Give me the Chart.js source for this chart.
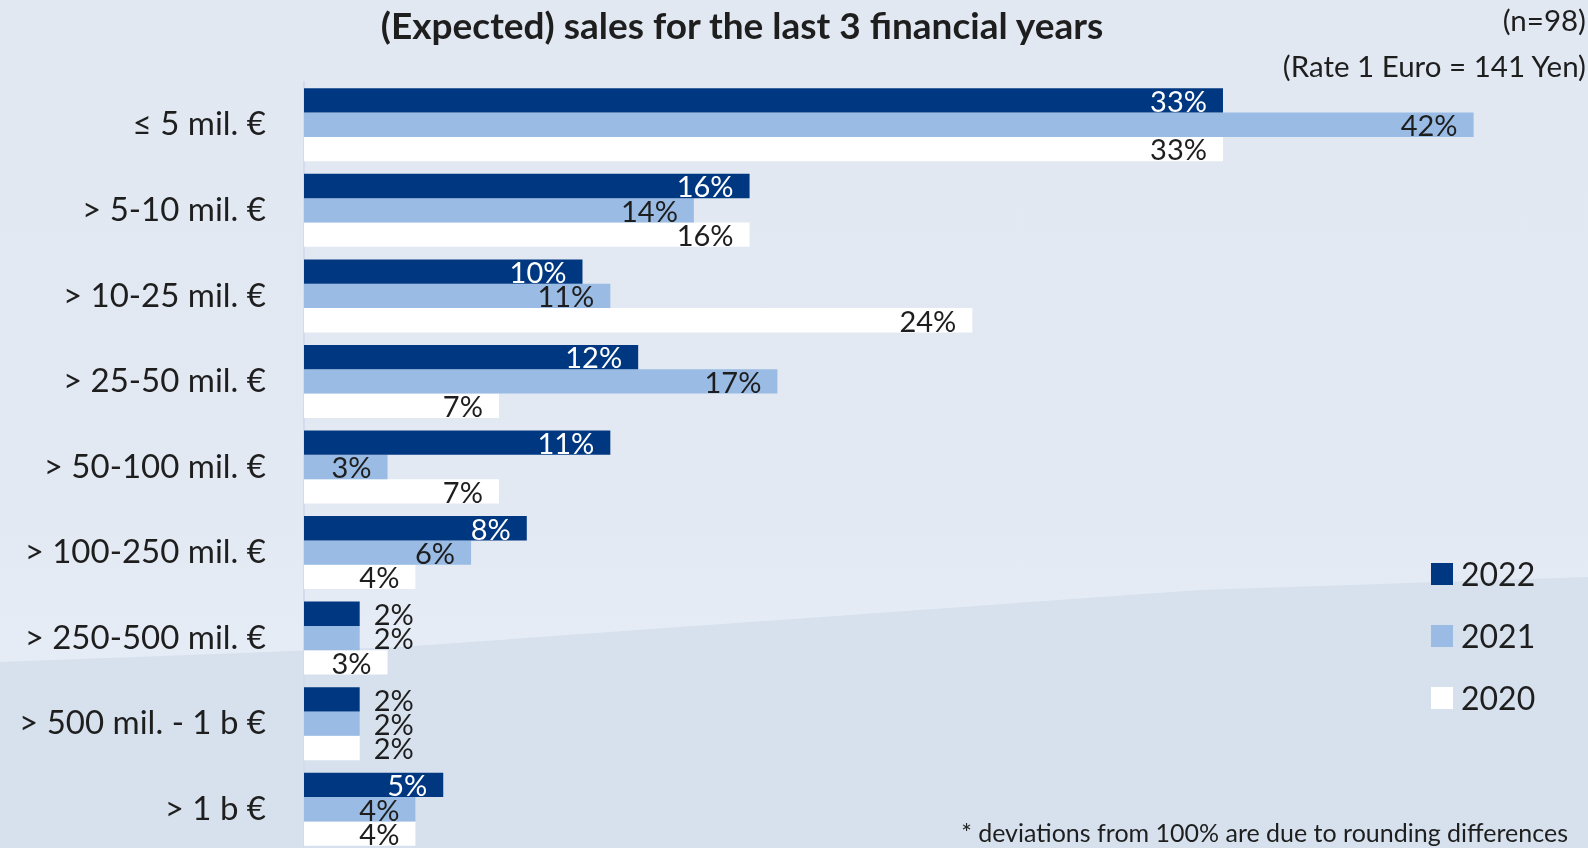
<!DOCTYPE html>
<html lang="en">
<head>
  <meta charset="UTF-8">
  <title>(Expected) sales for the last 3 financial years</title>
  <script src="https://cdn.jsdelivr.net/npm/chart.js"></script>
  <style>
    html, body { margin: 0; padding: 0; width: 1588px; height: 848px; overflow: hidden; }
    body { font-family: Lato, sans-serif; color: #1e1e1e; position: relative;
           background: linear-gradient(180deg, #e1e8f2 0%, #e3e9f3 60%, #e6ecf5 75%); }
    .lower { position: absolute; left: 0; top: 0; width: 1588px; height: 848px;
             background: #d6e1ed;
             clip-path: polygon(0 662px, 400px 647px, 1200px 590px, 1588px 577px, 1588px 848px, 0 848px); }
    .wrap { position: absolute; left: 0; top: 0; width: 1588px; height: 860px; }
    .txt { position: absolute; white-space: nowrap; line-height: 1; }
    #title { left: 742px; top: 24px; transform: translate(-50%, -50%); font-size: 37px; font-weight: bold; }
    #n { right: 2px; top: 20px; transform: translateY(-50%); font-size: 29.5px; }
    #rate { right: 2px; top: 66px; transform: translateY(-50%); font-size: 29.5px; }
    #note { right: 20px; top: 832px; transform: translateY(-50%); font-size: 25px; }
    .leg { position: absolute; left: 1431px; width: 300px; height: 40px; }
    .leg span.box { position: absolute; left: 0; top: 9px; width: 22px; height: 22px; }
    .leg span.lab { position: absolute; left: 30px; top: 20px; transform: translateY(-50%); font-size: 32px; line-height: 1; }
  </style>
</head>
<body>
  <div class="lower"></div>
  <div class="wrap"><canvas id="chart" width="1588" height="860"></canvas></div>

  <div class="txt" id="title">(Expected) sales for the last 3 financial years</div>
  <div class="txt" id="n">(n=98)</div>
  <div class="txt" id="rate">(Rate 1 Euro = 141 Yen)</div>
  <div class="txt" id="note">* deviations from 100% are due to rounding differences</div>
  <div id="legend"></div>

  <script>
    // categories and values (percent)
    const categories = ['≤ 5 mil. €', '> 5-10 mil. €', '> 10-25 mil. €', '> 25-50 mil. €', '> 50-100 mil. €',
                        '> 100-250 mil. €', '> 250-500 mil. €', '> 500 mil. - 1 b €', '> 1 b €'];
    const years = ['2022', '2021', '2020'];
    const sales2022 = [33, 16, 10, 12, 11, 8, 2, 2, 5];
    const sales2021 = [42, 14, 11, 17, 3, 6, 2, 2, 4];
    const sales2020 = [33, 16, 24, 7, 7, 4, 3, 2, 4];
    const colors = ['#003781', '#99bbe4', '#ffffff'];

    const series = [sales2022, sales2021, sales2020];

    // legend (html)
    const leg = document.getElementById('legend');
    years.forEach((y, i) => {
      const d = document.createElement('div');
      d.className = 'leg';
      d.style.top = (554 + i * 62) + 'px';
      d.innerHTML = '<span class="box" style="background:' + colors[i] + '"></span><span class="lab">' + y + '</span>';
      leg.appendChild(d);
    });

    // draws the value labels at the end of each bar
    const valueLabels = {
      id: 'valueLabels',
      afterDatasetsDraw(chart) {
        const ctx = chart.ctx;
        ctx.save();
        ctx.font = '29px Lato, sans-serif';
        ctx.textBaseline = 'middle';
        chart.data.datasets.forEach((ds, di) => {
          chart.getDatasetMeta(di).data.forEach((bar, i) => {
            const v = ds.data[i];
            const txt = v + '%';
            if (v > 2) {
              ctx.textAlign = 'right';
              ctx.fillStyle = di === 0 ? '#ffffff' : '#1e1e1e';
              ctx.fillText(txt, bar.x - 16, bar.y + 2);
            } else {
              ctx.textAlign = 'left';
              ctx.fillStyle = '#1e1e1e';
              ctx.fillText(txt, bar.x + 14, bar.y + 2);
            }
          });
        });
        ctx.restore();
      }
    };

    new Chart(document.getElementById('chart'), {
      type: 'bar',
      data: {
        labels: categories,
        datasets: years.map((y, i) => ({
          label: y,
          data: series[i],
          backgroundColor: colors[i],
          borderWidth: 0,
          barPercentage: 1,
          categoryPercentage: 0.853
        }))
      },
      options: {
        indexAxis: 'y',
        responsive: false,
        maintainAspectRatio: false,
        animation: false,
        layout: { padding: { top: 82, bottom: 8, right: 3, left: 0 } },
        scales: {
          x: { min: 0, max: 46, display: false },
          y: {
            grid: { display: false, drawTicks: false },
            border: { display: true, color: '#d2dcec', width: 2 },
            ticks: { color: '#1e1e1e', padding: 38, font: { family: 'Lato, sans-serif', size: 33 } },
            afterFit(scale) {
              scale.width = 304;
              // keep the label overhang from shrinking the plot area
              scale.paddingTop = 0;
              scale.paddingBottom = 0;
            }
          }
        },
        plugins: {
          legend: { display: false },
          tooltip: { enabled: false }
        }
      },
      plugins: [valueLabels]
    });
  </script>
</body>
</html>
